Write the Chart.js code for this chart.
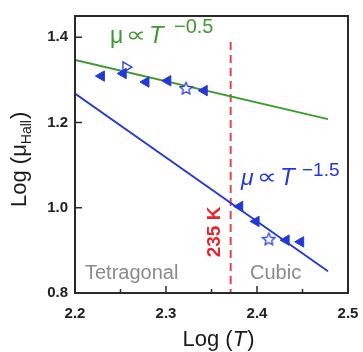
<!DOCTYPE html>
<html>
<head>
<meta charset="utf-8">
<script src="https://cdn.jsdelivr.net/npm/chart.js@4.4.1/dist/chart.umd.min.js"></script>
<style>
  html, body { margin: 0; padding: 0; background: #fff; }
</style>
</head>
<body>
<canvas id="chart" width="363" height="352"></canvas>
<script>
// measured points, log10 of T and of Hall mobility
const tetraLogT = [2.229, 2.253, 2.278, 2.302, 2.342];
const tetraLogMu = [1.309, 1.315, 1.295, 1.298, 1.275];
const cubicLogT = [2.381, 2.399, 2.432, 2.448];
const cubicLogMu = [1.003, 0.968, 0.924, 0.920];
const openTriLogT = [2.256];
const openTriLogMu = [1.330];
const starLogT = [2.322, 2.413];
const starLogMu = [1.280, 0.926];

// power law guide lines (end points)
const fitLogT = [2.2, 2.478];
const fitSlowMu = [1.347, 1.208];   // T^-0.5
const fitFastMu = [1.268, 0.851];   // T^-1.5

const transitionT = 235;

const xTicks = [2.2, 2.3, 2.4, 2.5];
const xMinorTicks = [2.25, 2.35, 2.45];
const yTicks = [0.8, 1.0, 1.2, 1.4];

const BLUE = '#2438d8';
const GREEN = '#3d9a30';
const FONT = "'Liberation Sans', Arial, sans-serif";

function pts(xs, ys) {
  return xs.map(function (x, i) { return { x: x, y: ys[i] }; });
}

// open star marker
function makeStar() {
  var c = document.createElement('canvas');
  c.width = 15; c.height = 15;
  var g = c.getContext('2d');
  g.beginPath();
  for (var i = 0; i < 10; i++) {
    var r = i % 2 === 0 ? 6.5 : 3;
    var a = -Math.PI / 2 + i * Math.PI / 5;
    var px = 7.5 + r * Math.cos(a), py = 7.8 + r * Math.sin(a);
    if (i === 0) g.moveTo(px, py); else g.lineTo(px, py);
  }
  g.closePath();
  g.fillStyle = '#fff';
  g.fill();
  g.strokeStyle = BLUE;
  g.lineWidth = 1.2;
  g.stroke();
  return c;
}

// "mu ∝ T^p" label, parts placed by hand
function powerLabel(ctx, x, y, power, color, italicMu, supSize, supDx) {
  ctx.fillStyle = color;
  ctx.font = (italicMu ? 'italic ' : '') + '23px ' + FONT;
  ctx.fillText('μ', x, y);
  // proportional sign, stretched to the width seen in the figure
  ctx.save();
  ctx.font = '22px DejaVu Sans';
  var w = ctx.measureText('∝').width;
  ctx.translate(x + 16, y - 1);
  ctx.scale(20 / w, 1);
  ctx.fillText('∝', 0, 0);
  ctx.restore();
  ctx.font = 'italic 24px ' + FONT;
  ctx.fillText('T', x + 39, y);
  ctx.font = supSize + 'px ' + FONT;
  ctx.fillText(power, x + supDx, y - 8 - (supSize - 18));
}

var decor = {
  id: 'decor',
  beforeDatasetsDraw: function (chart) {
    var ctx = chart.ctx, a = chart.chartArea;
    var xs = chart.scales.x;
    var rx = xs.getPixelForValue(Math.log10(transitionT));
    ctx.save();
    ctx.strokeStyle = '#e2474b';
    ctx.lineWidth = 2;
    ctx.setLineDash([8, 5]);
    ctx.beginPath();
    ctx.moveTo(rx, a.top + 26);
    ctx.lineTo(rx, a.bottom);
    ctx.stroke();
    ctx.restore();
  },
  afterDatasetsDraw: function (chart) {
    var ctx = chart.ctx, a = chart.chartArea;
    var xs = chart.scales.x, ys = chart.scales.y;
    ctx.save();
    // frame
    ctx.strokeStyle = '#2a2a2a';
    ctx.lineWidth = 2;
    ctx.strokeRect(a.left, a.top, a.right - a.left, a.bottom - a.top);
    // inward ticks
    ctx.lineWidth = 1.5;
    ctx.beginPath();
    yTicks.forEach(function (v) {
      var y = ys.getPixelForValue(v);
      ctx.moveTo(a.left, y); ctx.lineTo(a.left + 7, y);
    });
    xTicks.forEach(function (v) {
      var x = xs.getPixelForValue(v);
      ctx.moveTo(x, a.bottom); ctx.lineTo(x, a.bottom - 7);
    });
    xMinorTicks.forEach(function (v) {
      var x = xs.getPixelForValue(v);
      ctx.moveTo(x, a.bottom); ctx.lineTo(x, a.bottom - 4);
    });
    ctx.stroke();

    ctx.textBaseline = 'alphabetic';
    ctx.textAlign = 'left';
    // power law labels
    powerLabel(ctx, 110, 43, '−0.5', GREEN, false, 20, 64);
    powerLabel(ctx, 241, 185, '−1.5', BLUE, true, 19, 61);

    // phase names
    ctx.font = '20px ' + FONT;
    ctx.fillStyle = '#8a8a8a';
    ctx.fillText('Tetragonal', 85, 279);
    ctx.fillText('Cubic', 250, 279);
    // transition temperature
    ctx.save();
    ctx.translate(220, 232);
    ctx.rotate(-Math.PI / 2);
    ctx.textAlign = 'center';
    ctx.font = 'bold 19px ' + FONT;
    ctx.fillStyle = '#e8232a';
    ctx.fillText('235 K', 0, 0);
    ctx.restore();

    // axis titles
    ctx.fillStyle = '#1a1a1a';
    ctx.font = '22px ' + FONT;
    var w1 = ctx.measureText('Log (').width;
    ctx.font = 'italic 22px ' + FONT;
    var w2 = ctx.measureText('T').width;
    ctx.font = '22px ' + FONT;
    var w3 = ctx.measureText(')').width;
    var x0 = 218 - (w1 + w2 + w3) / 2;
    ctx.fillText('Log (', x0, 346);
    ctx.font = 'italic 22px ' + FONT;
    ctx.fillText('T', x0 + w1, 346);
    ctx.font = '22px ' + FONT;
    ctx.fillText(')', x0 + w1 + w2 + 1, 346);

    ctx.save();
    ctx.translate(26, 207);
    ctx.rotate(-Math.PI / 2);
    ctx.font = '22px ' + FONT;
    ctx.fillText('Log (μ', 0, 0);
    var wa = ctx.measureText('Log (μ').width;
    ctx.font = '14px ' + FONT;
    ctx.fillText('Hall', wa, 5);
    var wb = ctx.measureText('Hall').width;
    ctx.font = '22px ' + FONT;
    ctx.fillText(')', wa + wb + 1, 0);
    ctx.restore();
    ctx.restore();
  }
};

var ctx = document.getElementById('chart').getContext('2d');

var myChart = new Chart(ctx, {
  type: 'scatter',
  data: {
    datasets: [{
      data: pts(tetraLogT, tetraLogMu),
      pointStyle: 'triangle',
      rotation: 270,
      pointRadius: 6,
      backgroundColor: BLUE,
      borderColor: BLUE,
      borderWidth: 1
    }, {
      data: pts(cubicLogT, cubicLogMu),
      pointStyle: 'triangle',
      rotation: 270,
      pointRadius: 6,
      backgroundColor: BLUE,
      borderColor: BLUE,
      borderWidth: 1
    }, {
      data: pts(openTriLogT, openTriLogMu),
      pointStyle: 'triangle',
      rotation: 90,
      pointRadius: 6,
      backgroundColor: '#fff',
      borderColor: BLUE,
      borderWidth: 1.3
    }, {
      data: pts(starLogT, starLogMu),
      pointStyle: makeStar(),
      pointRadius: 7
    }, {
      data: pts(fitLogT, fitSlowMu),
      showLine: true,
      pointRadius: 0,
      borderColor: GREEN,
      borderWidth: 2
    }, {
      data: pts(fitLogT, fitFastMu),
      showLine: true,
      pointRadius: 0,
      borderColor: BLUE,
      borderWidth: 1.8
    }]
  },
  options: {
    responsive: false,
    animation: false,
    layout: { padding: { top: 11, right: 15, left: 0, bottom: 0 } },
    plugins: {
      legend: { display: false },
      tooltip: { enabled: false }
    },
    scales: {
      x: {
        type: 'linear',
        min: 2.2,
        max: 2.5,
        afterBuildTicks: function (s) { s.ticks = xTicks.map(function (v) { return { value: v }; }); },
        afterFit: function (s) { s.height = 59; s.paddingLeft = 0; s.paddingRight = 0; },
        grid: { display: false, drawTicks: false },
        border: { display: false },
        ticks: {
          padding: 12,
          maxRotation: 0,
          autoSkip: false,
          color: '#222',
          font: { family: FONT, size: 15, weight: 'bold' },
          callback: function (v) { return v.toFixed(1); }
        }
      },
      y: {
        type: 'linear',
        min: 0.8,
        max: 1.45,
        afterBuildTicks: function (s) { s.ticks = yTicks.map(function (v) { return { value: v }; }); },
        afterFit: function (s) { s.width = 75; },
        grid: { display: false, drawTicks: false },
        border: { display: false },
        ticks: {
          padding: 7,
          color: '#222',
          font: { family: FONT, size: 15, weight: 'bold' },
          callback: function (v) { return v.toFixed(1); }
        }
      }
    }
  },
  plugins: [decor]
});
</script>
</body>
</html>
